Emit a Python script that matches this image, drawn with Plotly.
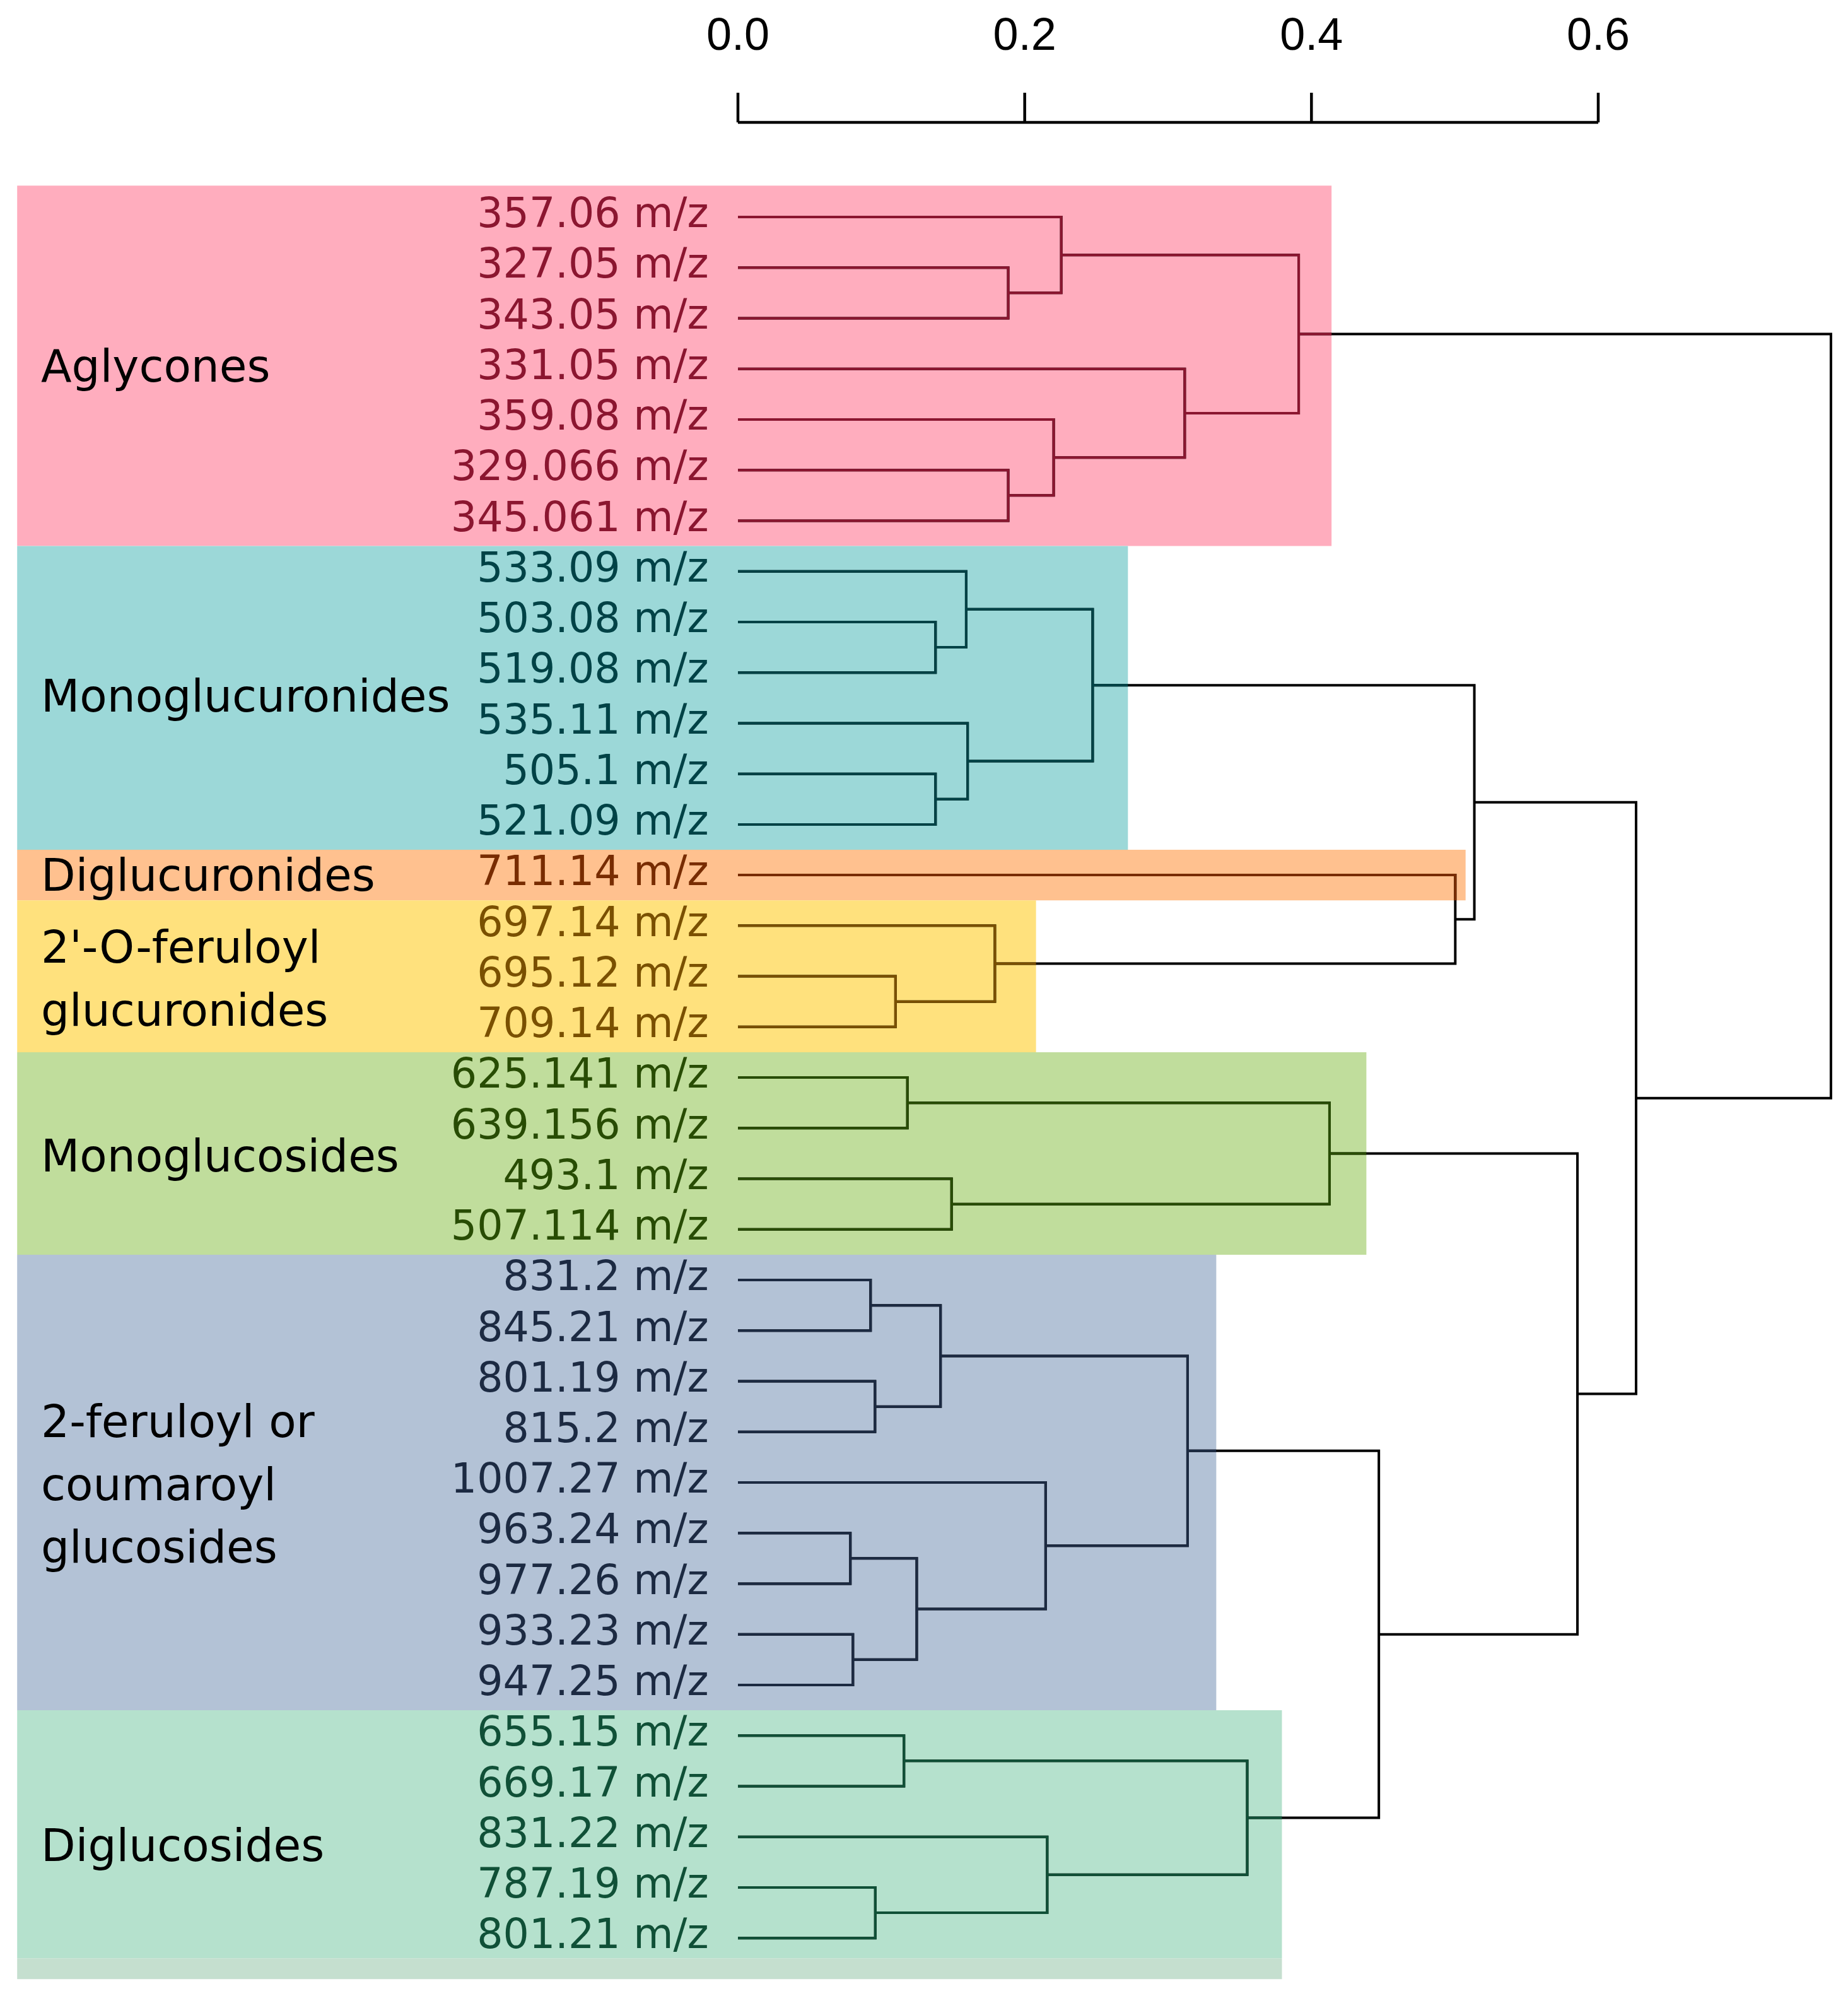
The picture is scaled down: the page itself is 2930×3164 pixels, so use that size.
import plotly.graph_objects as go

# ---------------- data ----------------
leaf_mz = ["357.06", "327.05", "343.05", "331.05", "359.08", "329.066", "345.061",
           "533.09", "503.08", "519.08", "535.11", "505.1", "521.09",
           "711.14",
           "697.14", "695.12", "709.14",
           "625.141", "639.156", "493.1", "507.114",
           "831.2", "845.21", "801.19", "815.2", "1007.27", "963.24", "977.26", "933.23", "947.25",
           "655.15", "669.17", "831.22", "787.19", "801.21"]

# merges: (child_a, child_b, height); node ids: leaves 0..34, merge k -> 35+k
merge_a = [1, 0, 5, 4, 3, 36, 8, 7, 11, 10, 42, 15, 14, 13, 45, 17, 19, 50, 21, 23, 53,
           26, 28, 56, 25, 55, 30, 33, 32, 61, 60, 52, 49, 40]
merge_b = [2, 35, 6, 37, 38, 39, 9, 41, 12, 43, 44, 16, 46, 47, 48, 18, 20, 51, 22, 24, 54,
           27, 29, 57, 58, 59, 31, 34, 62, 63, 64, 65, 66, 67]
merge_h = [0.1885, 0.2255, 0.1885, 0.2202, 0.3116, 0.3911, 0.1378, 0.1592, 0.1378, 0.1602,
           0.2474, 0.1099, 0.1792, 0.5003, 0.5136, 0.1182, 0.1490, 0.4126, 0.0925, 0.0956,
           0.1413, 0.0784, 0.0802, 0.1247, 0.2146, 0.3136, 0.1158, 0.0958, 0.2157, 0.3552,
           0.4470, 0.5855, 0.6264, 0.7623]

group_names = [["Aglycones"], ["Monoglucuronides"], ["Diglucuronides"],
               ["2'-O-feruloyl", "glucuronides"], ["Monoglucosides"],
               ["2-feruloyl or", "coumaroyl", "glucosides"], ["Diglucosides"]]
group_sizes = [7, 6, 1, 3, 4, 9, 5]
group_box_right = [0.4140, 0.2720, 0.5075, 0.2079, 0.4383, 0.3336, 0.3794]

tick_vals = [0.0, 0.2, 0.4, 0.6]

# ---------------- styles ----------------
group_light = ["#FFADBE", "#9CD8D8", "#FFC18F", "#FFE17D", "#C0DD9C", "#B3C2D6", "#B5E1CD"]
group_dark = ["#8B1630", "#004246", "#782C00", "#7A5000", "#284C04", "#1C2A42", "#105037"]
label_dy = [-0.05, -0.03, 0.0, 0.05, 0.05, 0.04, 0.17]
band_color = "#C5DFCF"
W, H = 2930, 3164
X0_PX, PX_PER_UNIT = 1162, 2273.3
Y0_PX, PX_PER_LEAF = 336, 80.24
BOX_LEFT = -0.5027
LABEL_X = BOX_LEFT + 0.0157
LEAF_LABEL_X = -0.0204
LINE_GAP = 1.24
AXIS_Y, TICK_TOP, TICK_LABEL_Y = -1.869, -2.455, -3.53
LW = 4

xr = [-X0_PX / PX_PER_UNIT, (W - X0_PX) / PX_PER_UNIT]
yr = [(H - Y0_PX) / PX_PER_LEAF, -Y0_PX / PX_PER_LEAF]

# ---------------- group boxes ----------------
boxes = []  # (x_left, x_right, y_top, y_bottom)
leaf_group = []
start = 0
for gi, size in enumerate(group_sizes):
    end = start + size - 1
    top = start - (0.62 if gi == 0 else 0.5)
    bottom = end + (0.40 if gi == len(group_sizes) - 1 else 0.5)
    boxes.append((BOX_LEFT, group_box_right[gi], top, bottom))
    leaf_group += [gi] * size
    start = end + 1

# ---------------- dendrogram geometry ----------------
n = len(leaf_mz)
pos = {i: float(i) for i in range(n)}
hgt = {i: 0.0 for i in range(n)}
paths = []
for k, (a, b, h) in enumerate(zip(merge_a, merge_b, merge_h)):
    node = n + k
    paths.append([(hgt[a], pos[a]), (h, pos[a]), (h, pos[b]), (hgt[b], pos[b])])
    pos[node] = (pos[a] + pos[b]) / 2
    hgt[node] = h


def clip(p, q, box):
    xl, xr_, yt, yb = box
    (x0, y0), (x1, y1) = p, q
    if abs(y0 - y1) < 1e-12:  # horizontal
        if not (yt <= y0 <= yb):
            return None
        lo, hi = max(min(x0, x1), xl), min(max(x0, x1), xr_)
        if hi - lo <= 1e-12:
            return None
        return ((lo, y0), (hi, y0)) if x0 <= x1 else ((hi, y0), (lo, y0))
    if not (xl <= x0 <= xr_):
        return None
    lo, hi = max(min(y0, y1), yt), min(max(y0, y1), yb)
    if hi - lo <= 1e-12:
        return None
    return ((x0, lo), (x0, hi)) if y0 <= y1 else ((x0, hi), (x0, lo))


fig = go.Figure()

# black base
bx, by = [], []
for pts in paths:
    bx += [p[0] for p in pts] + [None]
    by += [p[1] for p in pts] + [None]
fig.add_trace(go.Scatter(x=bx, y=by, mode="lines", line=dict(color="black", width=LW),
                         hoverinfo="skip", showlegend=False))

# coloured parts inside the group boxes
for gi, box in enumerate(boxes):
    cx, cy = [], []
    for pts in paths:
        poly = []
        for p, q in zip(pts[:-1], pts[1:]):
            piece = clip(p, q, box)
            if piece is None:
                if poly:
                    cx += [t[0] for t in poly] + [None]
                    cy += [t[1] for t in poly] + [None]
                    poly = []
                continue
            if poly and abs(poly[-1][0] - piece[0][0]) < 1e-9 and abs(poly[-1][1] - piece[0][1]) < 1e-9:
                poly.append(piece[1])
            else:
                if poly:
                    cx += [t[0] for t in poly] + [None]
                    cy += [t[1] for t in poly] + [None]
                poly = [piece[0], piece[1]]
        if poly:
            cx += [t[0] for t in poly] + [None]
            cy += [t[1] for t in poly] + [None]
    if cx:
        fig.add_trace(go.Scatter(x=cx, y=cy, mode="lines",
                                 line=dict(color=group_dark[gi], width=LW),
                                 hoverinfo="skip", showlegend=False))

# leaf labels
fig.add_trace(go.Scatter(x=[LEAF_LABEL_X] * n, y=list(range(n)), mode="text",
                         text=[f"{m} m/z" for m in leaf_mz], textposition="middle left",
                         textfont=dict(family="DejaVu Sans", size=65,
                                       color=[group_dark[g] for g in leaf_group]),
                         hoverinfo="skip", showlegend=False))

# top axis
ax_x = [tick_vals[0], tick_vals[-1], None]
ax_y = [AXIS_Y, AXIS_Y, None]
for t in tick_vals:
    ax_x += [t, t, None]
    ax_y += [AXIS_Y, TICK_TOP, None]
fig.add_trace(go.Scatter(x=ax_x, y=ax_y, mode="lines",
                         line=dict(color="black", width=4.5), hoverinfo="skip",
                         showlegend=False))
fig.add_trace(go.Scatter(x=tick_vals, y=[TICK_LABEL_Y] * len(tick_vals), mode="text",
                         text=[f"{t:.1f}" for t in tick_vals], textposition="middle center",
                         textfont=dict(family="Liberation Sans", size=72, color="black"),
                         hoverinfo="skip", showlegend=False))

# boxes and group labels
shapes, annotations = [], []
start = 0
for gi, (names, size) in enumerate(zip(group_names, group_sizes)):
    xl, xr_, yt, yb = boxes[gi]
    shapes.append(dict(type="rect", xref="x", yref="y", x0=xl, x1=xr_, y0=yt, y1=yb,
                       fillcolor=group_light[gi], line=dict(width=0), layer="below"))
    if gi == len(group_sizes) - 1:
        shapes.append(dict(type="rect", xref="x", yref="y", x0=xl, x1=xr_,
                           y0=yb, y1=yb + 0.41, fillcolor=band_color,
                           line=dict(width=0), layer="below"))
    end = start + size - 1
    center = (start + end) / 2 + label_dy[gi]
    for li, txt in enumerate(names):
        yy = center + (li - (len(names) - 1) / 2) * LINE_GAP
        annotations.append(dict(x=LABEL_X, y=yy, xref="x", yref="y", text=txt,
                                showarrow=False, xanchor="left", yanchor="middle",
                                font=dict(family="DejaVu Sans", size=71, color="black")))
    start = end + 1

fig.update_layout(width=W, height=H, margin=dict(l=0, r=0, t=0, b=0),
                  paper_bgcolor="white", plot_bgcolor="white",
                  shapes=shapes, annotations=annotations, showlegend=False,
                  xaxis=dict(range=xr, visible=False, showgrid=False, zeroline=False),
                  yaxis=dict(range=yr, visible=False, showgrid=False, zeroline=False))

fig.write_html("out.html")
